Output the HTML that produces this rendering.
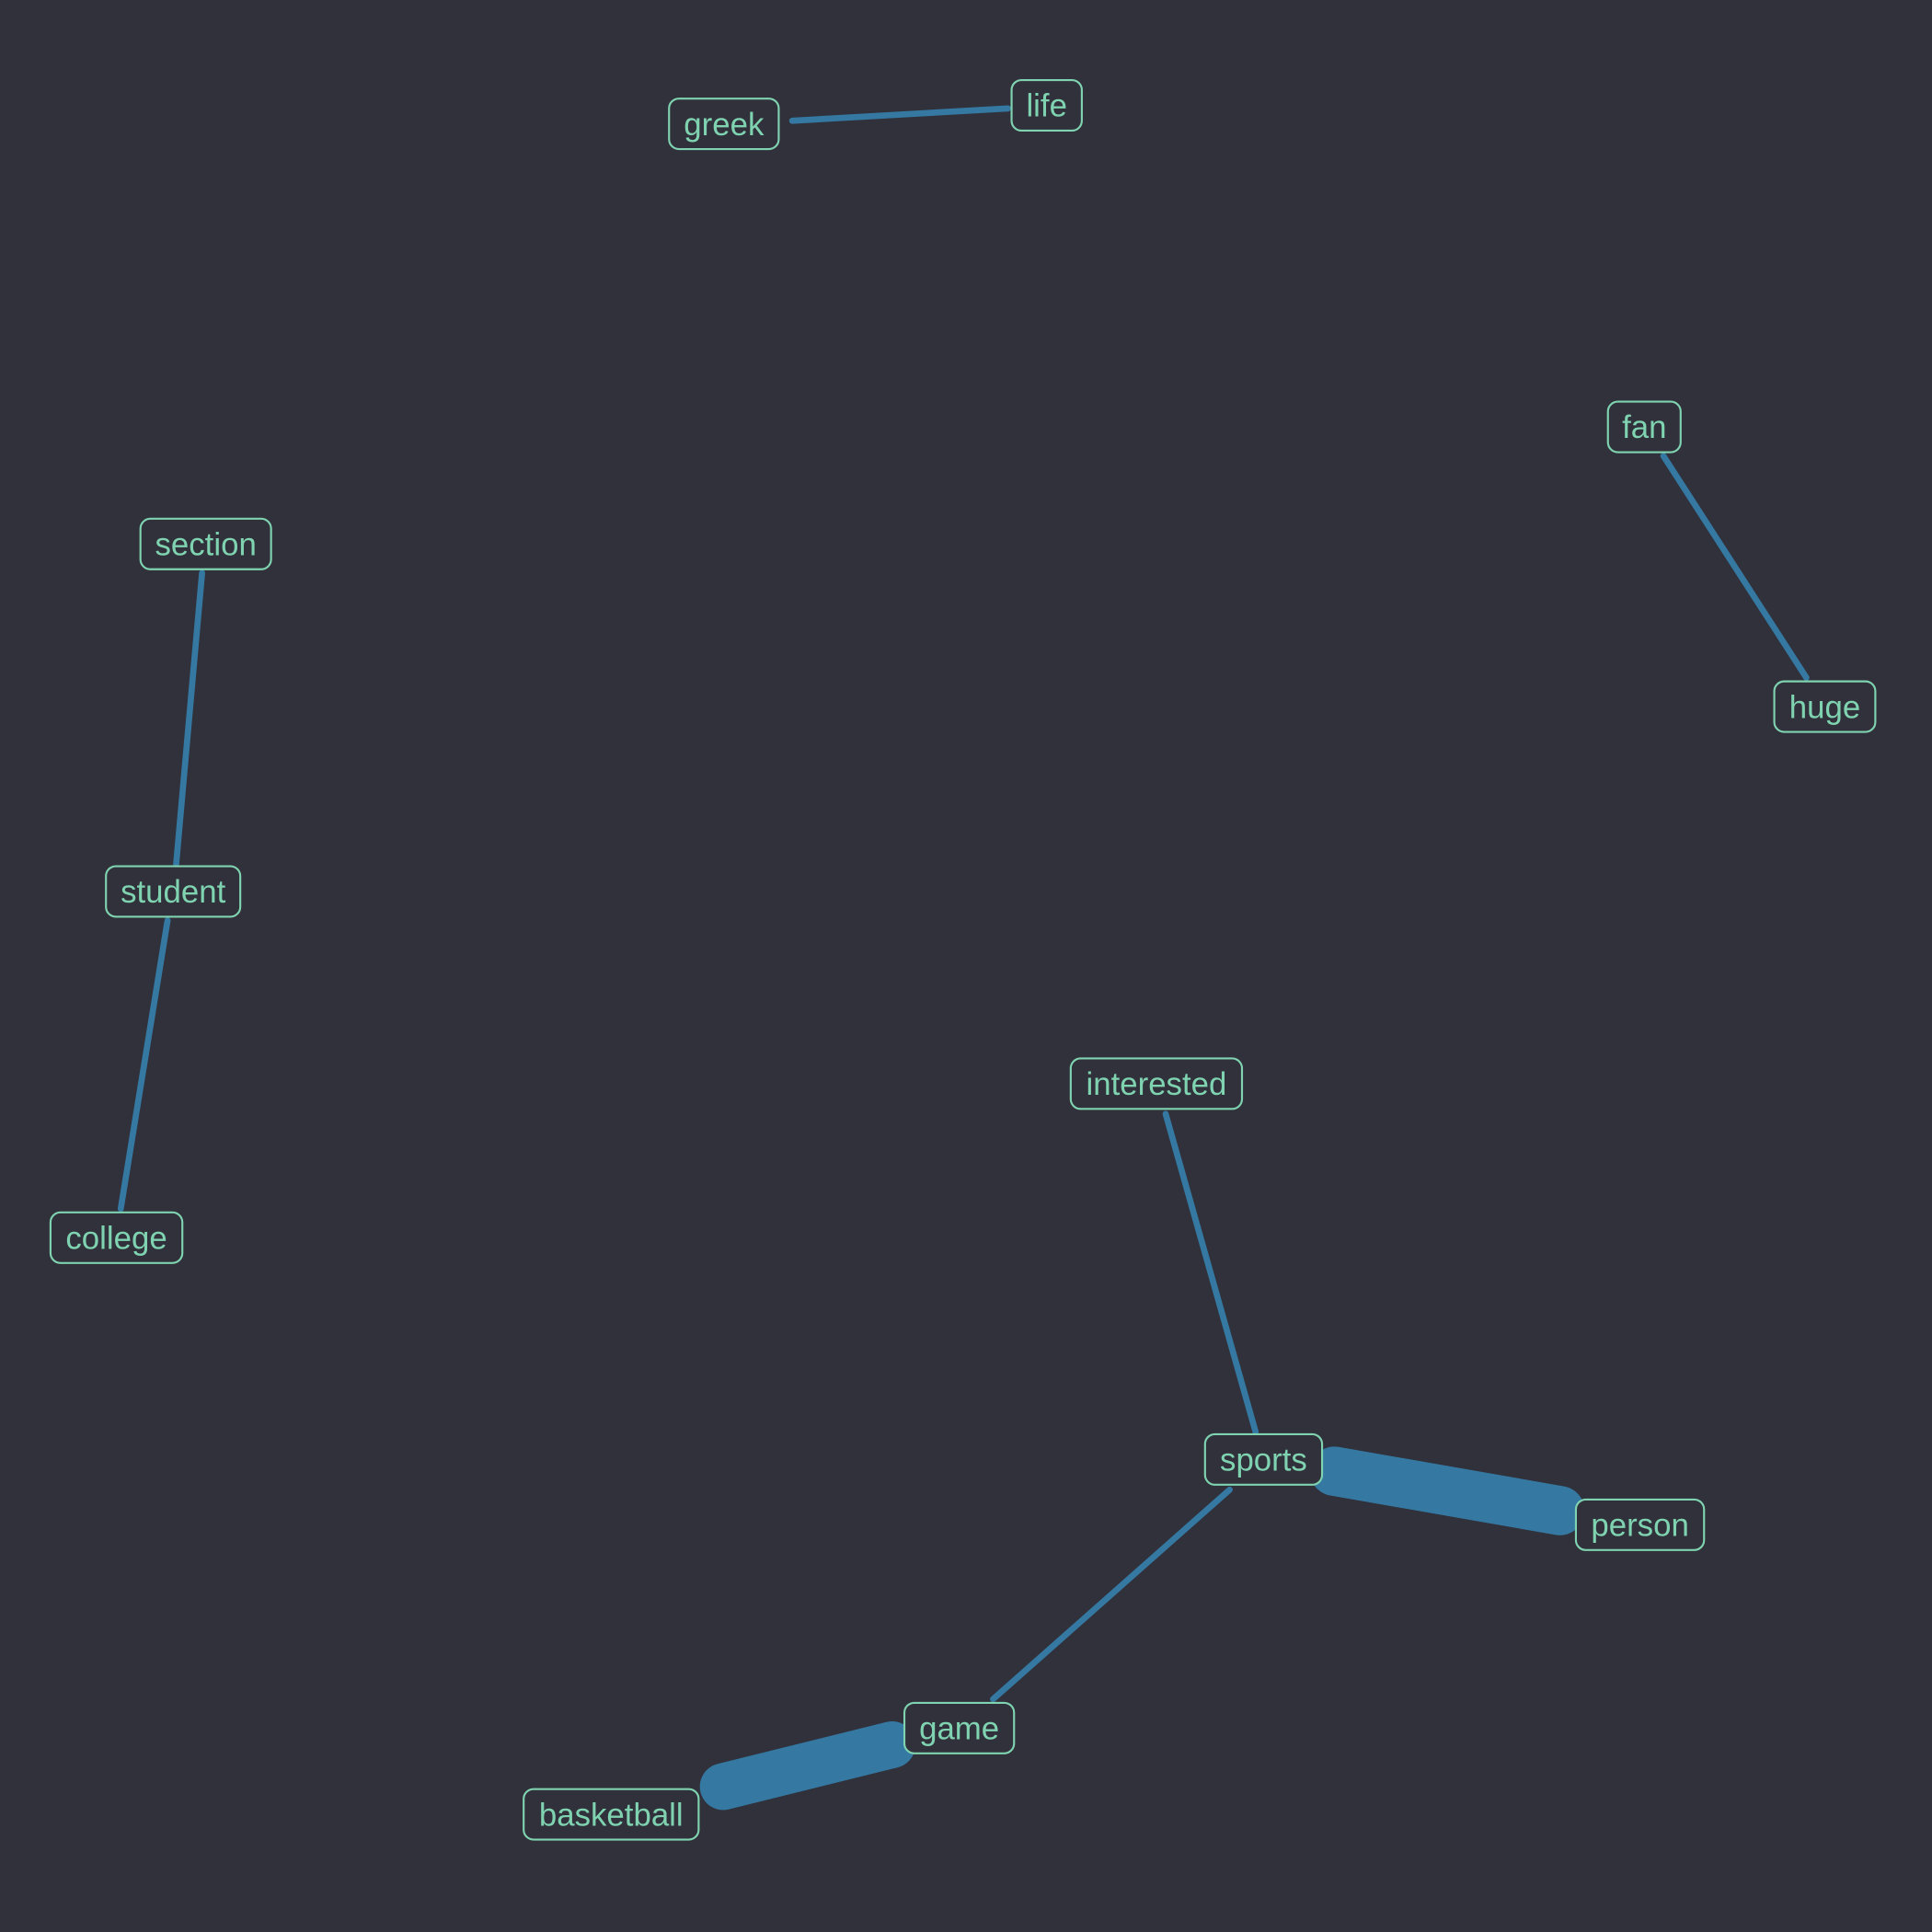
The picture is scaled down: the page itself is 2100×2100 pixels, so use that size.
<!DOCTYPE html>
<html><head><meta charset="utf-8"><style>
html,body{margin:0;padding:0;background:#30313b;}
svg{display:block}
text{font-family:"Liberation Sans",sans-serif;font-size:26px;fill:#7fd3b0;text-anchor:middle;dominant-baseline:central}
rect{fill:#30313b;stroke:#7fd3b0;stroke-width:1.6}
line{stroke:#3579a2;stroke-linecap:round}
</style></head><body>
<svg width="2100" height="2100" viewBox="0 0 1568 1568" xmlns="http://www.w3.org/2000/svg">
<rect x="0" y="0" width="1568" height="1568" style="fill:#30313b;stroke:none"/>
<line x1="643" y1="98" x2="818" y2="88" stroke-width="5"/>
<line x1="1350" y1="370" x2="1466" y2="550" stroke-width="5"/>
<line x1="164" y1="465" x2="143" y2="701" stroke-width="5"/>
<line x1="136" y1="747" x2="98" y2="981" stroke-width="5"/>
<line x1="946" y1="904" x2="1019" y2="1162" stroke-width="5"/>
<line x1="1083" y1="1194" x2="1266" y2="1226" stroke-width="40"/>
<line x1="998" y1="1209" x2="806" y2="1379" stroke-width="5"/>
<line x1="724" y1="1416" x2="587" y2="1450" stroke-width="38"/>

<rect x="543" y="80" width="89" height="41" rx="8"/><text x="587.5" y="101">greek</text>
<rect x="821" y="65" width="57" height="41" rx="8"/><text x="849.5" y="86">life</text>
<rect x="1305" y="326" width="59" height="41" rx="8"/><text x="1334.5" y="347">fan</text>
<rect x="1440" y="553" width="82" height="41" rx="8"/><text x="1481" y="574">huge</text>
<rect x="114" y="421" width="106" height="41" rx="8"/><text x="167" y="442">section</text>
<rect x="86" y="703" width="109" height="41" rx="8"/><text x="140.5" y="724">student</text>
<rect x="41" y="984" width="107" height="41" rx="8"/><text x="94.5" y="1005">college</text>
<rect x="869" y="859" width="139" height="41" rx="8"/><text x="938.5" y="880">interested</text>
<rect x="978" y="1164" width="95" height="41" rx="8"/><text x="1025.5" y="1185">sports</text>
<rect x="1279" y="1217" width="104" height="41" rx="8"/><text x="1331" y="1238">person</text>
<rect x="734" y="1382" width="89" height="41" rx="8"/><text x="778.5" y="1403">game</text>
<rect x="425" y="1452" width="142" height="41" rx="8"/><text x="496" y="1473">basketball</text>
</svg>
</body></html>
